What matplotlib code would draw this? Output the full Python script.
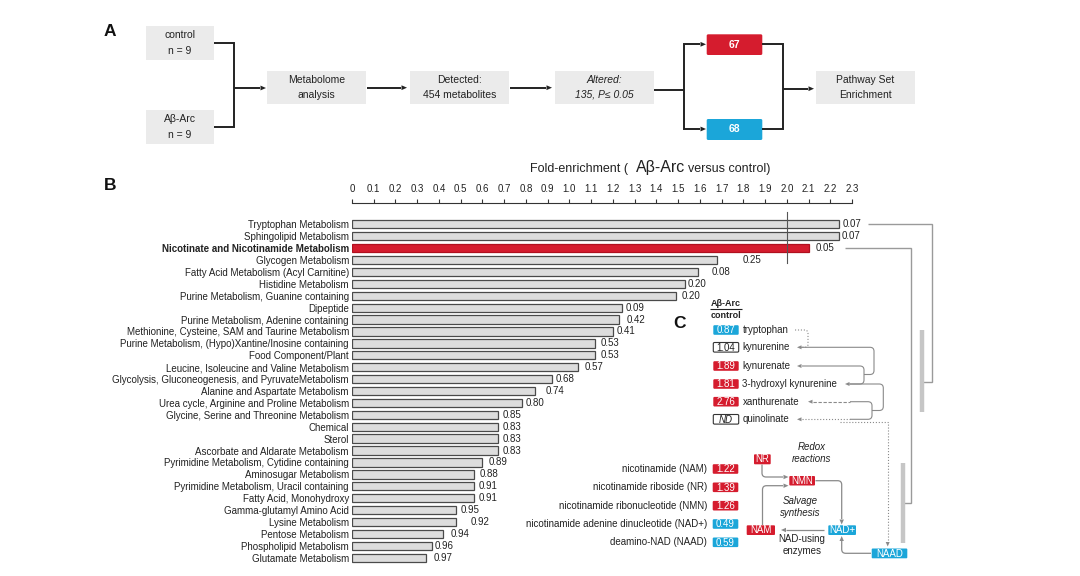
import numpy as np
import matplotlib
matplotlib.use("Agg")
import matplotlib.pyplot as plt
from matplotlib.patches import Rectangle, FancyBboxPatch, PathPatch, Polygon
from matplotlib.path import Path

plt.rcParams['font.family'] = ['Liberation Sans', 'DejaVu Sans']

# ---------------- data ----------------
categories = [
    "Tryptophan Metabolism", "Sphingolipid Metabolism",
    "Nicotinate and Nicotinamide Metabolism", "Glycogen Metabolism",
    "Fatty Acid Metabolism (Acyl Carnitine)", "Histidine Metabolism",
    "Purine Metabolism, Guanine containing", "Dipeptide",
    "Purine Metabolism, Adenine containing",
    "Methionine, Cysteine, SAM and Taurine Metabolism",
    "Purine Metabolism, (Hypo)Xantine/Inosine containing",
    "Food Component/Plant", "Leucine, Isoleucine and Valine Metabolism",
    "Glycolysis, Gluconeogenesis, and PyruvateMetabolism",
    "Alanine and Aspartate Metabolism",
    "Urea cycle, Arginine and Proline Metabolism",
    "Glycine, Serine and Threonine Metabolism", "Chemical", "Sterol",
    "Ascorbate and Aldarate Metabolism",
    "Pyrimidine Metabolism, Cytidine containing", "Aminosugar Metabolism",
    "Pyrimidine Metabolism, Uracil containing", "Fatty Acid, Monohydroxy",
    "Gamma-glutamyl Amino Acid", "Lysine Metabolism", "Pentose Metabolism",
    "Phospholipid Metabolism", "Glutamate Metabolism",
]
fold_enrichment = [2.24, 2.24, 2.10, 1.68, 1.59, 1.53, 1.49, 1.24, 1.23, 1.20,
                   1.12, 1.12, 1.04, 0.92, 0.84, 0.78, 0.67, 0.67, 0.67, 0.67,
                   0.60, 0.56, 0.56, 0.56, 0.48, 0.48, 0.42, 0.37, 0.34]
p_values = ["0.07", "0.07", "0.05", "0.25", "0.08", "0.20", "0.20", "0.09",
            "0.42", "0.41", "0.53", "0.53", "0.57", "0.68", "0.74", "0.80",
            "0.85", "0.83", "0.83", "0.83", "0.89", "0.88", "0.91", "0.91",
            "0.95", "0.92", "0.94", "0.96", "0.97"]
highlight = "Nicotinate and Nicotinamide Metabolism"
x_ticks = [round(0.1 * i, 1) for i in range(24)]

kyn_names = ["tryptophan", "kynurenine", "kynurenate", "3-hydroxyl kynurenine",
             "xanthurenate", "quinolinate"]
kyn_ratio = ["0.87", "1.04", "1.89", "1.81", "2.76", "ND"]
kyn_change = ["down", "ns", "up", "up", "up", "nd"]

nad_names = ["nicotinamide (NAM)", "nicotinamide riboside (NR)",
             "nicotinamide ribonucleotide (NMN)",
             "nicotinamide adenine dinucleotide (NAD+)", "deamino-NAD (NAAD)"]
nad_ratio = ["1.22", "1.39", "1.26", "0.49", "0.59"]
nad_change = ["up", "up", "up", "down", "down"]

n_control, n_abarc = 9, 9
n_detected, n_altered, n_up, n_down = 454, 135, 67, 68

# ---------------- style / layout ----------------
RED = '#d51c2e'
BLUE = '#1ba6d9'
BOXG = '#ebebeb'
DARK = '#222222'
GREY = '#9a9a9a'
TXT = '#222222'
pval_gap_px = [4, 3, 7, 25, 14, 3, 6, 4, 7, 4, 5, 5, 7, 4, 11, 4, 5, 5, 5, 5,
               6, 6, 5, 5, 4, 14, 7, 2, 8]

fig = plt.figure(figsize=(10.8, 5.76), dpi=100)
ov = fig.add_axes([0, 0, 1, 1])
ov.set_xlim(0, 1080)
ov.set_ylim(576, 0)
ov.set_axis_off()


def t(x, y, s, size=7, ha='center', va='center', color=TXT, **kw):
    ov.text(x, y, s, fontsize=size, ha=ha, va=va, color=color, **kw)


def rect(x0, x1, y0, y1, fc, ec='none', lw=0, r=0):
    if r > 0:
        p = FancyBboxPatch((x0, y0), x1 - x0, y1 - y0,
                           boxstyle=f"round,pad=0,rounding_size={r}",
                           facecolor=fc, edgecolor=ec, linewidth=lw)
    else:
        p = Rectangle((x0, y0), x1 - x0, y1 - y0, facecolor=fc,
                      edgecolor=ec, linewidth=lw)
    ov.add_patch(p)


def poly(pts, color, lw, ls='-', r=0, z=2):
    pts = [np.array(p, float) for p in pts]
    verts = [pts[0]]
    codes = [Path.MOVETO]
    for i in range(1, len(pts) - 1):
        p0, p1, p2 = pts[i - 1], pts[i], pts[i + 1]
        d1 = p0 - p1
        d2 = p2 - p1
        l1, l2 = np.linalg.norm(d1), np.linalg.norm(d2)
        rr = min(r, l1 / 2, l2 / 2)
        if rr > 0:
            a = p1 + d1 / l1 * rr
            b = p1 + d2 / l2 * rr
            verts += [a, p1, b]
            codes += [Path.LINETO, Path.CURVE3, Path.CURVE3]
        else:
            verts.append(p1)
            codes.append(Path.LINETO)
    verts.append(pts[-1])
    codes.append(Path.LINETO)
    ov.add_patch(PathPatch(Path(verts, codes), fill=False, edgecolor=color,
                           linewidth=lw, linestyle=ls, capstyle='butt',
                           joinstyle='miter', zorder=z))


def head(x, y, dx, dy, color, L=5.5, W=2.4):
    d = np.array([dx, dy], float)
    d /= np.linalg.norm(d)
    n = np.array([-d[1], d[0]])
    tip = np.array([x, y])
    base = tip - L * d
    ov.add_patch(Polygon([tip, base + W * n, base - W * n], closed=True,
                         facecolor=color, edgecolor='none', zorder=3))


# ---------------- panel letters ----------------
t(110, 31, "A", size=12.5, weight='bold', color='#111')
t(110, 185, "B", size=12.5, weight='bold', color='#111')
t(679, 324, "C", size=12.5, weight='bold', color='#111')

# ---------------- panel A: flowchart ----------------
FS = 7.5
rect(146, 214, 26, 59.5, BOXG)
t(180, 35, "control", FS)
t(180, 50.5, f"n = {n_control}", FS)
rect(146, 214, 110, 144, BOXG)
t(180, 119, "A\u03b2-Arc", FS)
t(180, 134.5, f"n = {n_abarc}", FS)
poly([(214, 43.3), (234.3, 43.3), (234.3, 126.7), (214, 126.7)], DARK, 1.4)
poly([(234.3, 88), (260, 88)], DARK, 1.4)
head(266, 88, 1, 0, DARK)

rect(266.7, 366, 70.7, 104, BOXG)
t(316.3, 80, "Metabolome", FS)
t(316.3, 94.5, "analysis", FS)
poly([(367, 87.7), (401, 87.7)], DARK, 1.4)
head(407, 87.7, 1, 0, DARK)

rect(410, 509, 70.7, 104, BOXG)
t(459.5, 80, "Detected:", FS)
t(459.5, 94.5, f"{n_detected} metabolites", FS)
poly([(510, 87.7), (546, 87.7)], DARK, 1.4)
head(552, 87.7, 1, 0, DARK)

rect(555, 654, 70.7, 104, BOXG)
t(604.5, 80, "Altered:", FS, style='italic')
t(604.5, 94.5, f"{n_altered}, P\u2264 0.05", FS, style='italic')
poly([(654, 90), (684.3, 90)], DARK, 1.4)
poly([(700, 44.3), (684.3, 44.3), (684.3, 129), (700, 129)], DARK, 1.4)
head(706, 44.3, 1, 0, DARK)
head(706, 129, 1, 0, DARK)

rect(706.7, 762.3, 34.3, 55, RED, r=1.5)
t(734.5, 44.8, str(n_up), FS, color='white', weight='bold')
rect(706.7, 762.3, 119, 140, BLUE, r=1.5)
t(734.5, 129.5, str(n_down), FS, color='white', weight='bold')
poly([(762.3, 44.3), (782.7, 44.3), (782.7, 129), (762.3, 129)], DARK, 1.4)
poly([(782.7, 88.7), (808, 88.7)], DARK, 1.4)
head(814, 88.7, 1, 0, DARK)

rect(816, 915, 70.7, 104, BOXG)
t(865.5, 80, "Pathway Set", FS)
t(865.5, 94.5, "Enrichment", FS)

# ---------------- panel B: bar chart ----------------
px_top, px_bottom = 203.0, 563.7
y_top, y_bot = -1.79, 28.5
ax = fig.add_axes([352 / 1080, 1 - px_bottom / 576, 500 / 1080,
                   (px_bottom - px_top) / 576])
ax.set_facecolor('none')
yy = np.arange(len(categories))
fills = [RED if c == highlight else '#dddddd' for c in categories]
edges = ['#b0101f' if c == highlight else '#4a4a4a' for c in categories]
ax.barh(yy, fold_enrichment, height=0.7, color=fills, edgecolor=edges,
        linewidth=0.9, zorder=2)
ax.set_xlim(0, 2.3)
ax.set_ylim(y_bot, y_top)
ax.xaxis.tick_top()
ax.set_xticks(x_ticks)
ax.set_xticklabels(["0" if v == 0 else f"{v:.1f}" for v in x_ticks])
ax.tick_params(axis='x', direction='out', length=3, width=0.8, pad=3.5,
               labelsize=7, colors='#222', color='#333')
for s in ['left', 'right', 'bottom']:
    ax.spines[s].set_visible(False)
ax.spines['top'].set_color('#333')
ax.spines['top'].set_linewidth(0.8)
ax.set_yticks(yy)
ax.set_yticklabels(categories, fontsize=7, color=TXT)
ax.tick_params(axis='y', length=0, pad=2.2)
for lbl in ax.get_yticklabels():
    if lbl.get_text() == highlight:
        lbl.set_fontweight('bold')
for i, (v, p) in enumerate(zip(fold_enrichment, p_values)):
    ax.annotate(p, xy=(v, i), xytext=(pval_gap_px[i] * 0.72, 0),
                textcoords='offset points', va='center', ha='left',
                fontsize=7, color=TXT, annotation_clip=False)
ax.plot([2.0, 2.0], [-1.06, 3.28], color='#555', lw=0.8, zorder=3,
        clip_on=False)

# axis title (mixed sizes)
t(530, 172, "Fold-enrichment (", 9, ha='left', va='baseline')
t(636, 172, "A\u03b2-Arc", 11.5, ha='left', va='baseline')
t(688, 172, "versus control)", 9, ha='left', va='baseline')

# connectors from bars to panel C
poly([(868, 224.3), (931.7, 224.3), (931.7, 381.7), (921.5, 381.7)], GREY, 1.0)
poly([(921.5, 330), (921.5, 411.7)], '#c6c6c6', 3.2)
poly([(845, 248.3), (910.7, 248.3), (910.7, 503.3), (903.3, 503.3)], GREY, 1.0)
poly([(903.3, 463.3), (903.3, 543.3)], '#c6c6c6', 3.2)

# ---------------- panel C ----------------
t(726, 303.3, "A\u03b2-Arc", 6.5, weight='bold')
poly([(710, 309.3), (742, 309.3)], DARK, 0.8)
t(726, 316, "control", 6.5, weight='bold')

kyn_y = [330, 347.3, 366, 384, 401.7, 419.3]
for name, val, ch, yv in zip(kyn_names, kyn_ratio, kyn_change, kyn_y):
    if ch == 'up':
        rect(713.3, 738.7, yv - 4.8, yv + 4.8, RED, r=1.2)
        t(726, yv + 0.3, val, 7, color='white')
    elif ch == 'down':
        rect(713.3, 738.7, yv - 4.8, yv + 4.8, BLUE, r=1.2)
        t(726, yv + 0.3, val, 7, color='white')
    else:
        rect(713.3, 738.7, yv - 4.8, yv + 4.8, 'white', ec='#333', lw=0.8,
             r=1.2)
        t(726, yv + 0.3, val, 7, color=TXT,
          style='italic' if ch == 'nd' else 'normal')
    t(742.5, yv, name, 7, ha='left')

CG = '#8a8a8a'
# tryptophan -> kynurenine
poly([(795, 330), (808, 330), (808, 347.3), (802, 347.3)], CG, 0.8, ls=':', r=3)
head(797, 347.3, -1, 0, CG, L=4.5, W=2)
# kynurenine -> kynurenate / 3-HK
poly([(800, 347.3), (874, 347.3), (874, 374.5), (864, 374.5)], CG, 0.8, r=4)
poly([(802, 366), (864, 366), (864, 384), (850, 384)], CG, 0.8, r=4)
head(797, 366, -1, 0, CG, L=4.5, W=2)
head(845, 384, -1, 0, CG, L=4.5, W=2)
# 3-HK -> xanthurenate / quinolinate
poly([(849, 384), (883.3, 384), (883.3, 410.5), (872, 410.5)], CG, 0.8, r=4)
poly([(850, 401.7), (872, 401.7), (872, 419.3), (850, 419.3)], CG, 0.8, r=4)
poly([(813, 401.7), (850, 401.7)], CG, 0.8, ls=(0, (3, 1.5)))
head(808, 401.7, -1, 0, CG, L=4.5, W=2)
poly([(802, 419.3), (850, 419.3)], CG, 0.8, ls=':')
head(797, 419.3, -1, 0, CG, L=4.5, W=2)
# quinolinate -> NAAD
poly([(840, 421.5), (887.7, 421.5), (887.7, 541)], CG, 0.8, ls=':')
head(887.7, 546.5, 0, 1, CG, L=4.5, W=2)

# NAD metabolites
nad_y = [469, 487.3, 505.7, 524, 542.3]
for name, val, ch, yv in zip(nad_names, nad_ratio, nad_change, nad_y):
    rect(712.7, 738.3, yv - 4.8, yv + 4.8, RED if ch == 'up' else BLUE, r=1.2)
    t(725.5, yv + 0.3, val, 7, color='white')
    t(707.3, yv, name, 7, ha='right')

# cycle diagram
rect(754, 770.7, 454.3, 464.3, RED, r=1)
t(762.3, 459.5, "NR", 7, color='white')
rect(789.3, 815, 476, 485.5, RED, r=1)
t(802.2, 481, "NMN", 7, color='white')
rect(746.7, 775, 525.3, 535, RED, r=1)
t(760.8, 530.3, "NAM", 7, color='white')
rect(828.3, 856, 525.3, 535, BLUE, r=1)
t(842.2, 530.3, "NAD+", 7, color='white')
rect(871.7, 907.3, 548.5, 558.3, BLUE, r=1)
t(889.5, 553.6, "NAAD", 7, color='white')

t(811.7, 446.7, "Redox", 7, style='italic')
t(811.7, 459, "reactions", 7, style='italic')
t(800, 501, "Salvage", 7, style='italic')
t(800, 513.3, "synthesis", 7, style='italic')
t(801.7, 539, "NAD-using", 7)
t(801.7, 551, "enzymes", 7)

poly([(762, 464.5), (762, 477), (783, 477)], CG, 0.9, r=4)
head(788.5, 477, 1, 0, CG, L=5, W=2.2)
poly([(762.5, 525), (762.5, 485.7), (783, 485.7)], CG, 0.9, r=4)
head(788.5, 485.7, 1, 0, CG, L=5, W=2.2)
poly([(815.5, 480.7), (841.7, 480.7), (841.7, 519)], CG, 0.9, r=4)
head(841.7, 524.5, 0, 1, CG, L=5, W=2.2)
poly([(824, 530), (786, 530)], CG, 0.9)
head(781, 530, -1, 0, CG, L=5, W=2.2)
poly([(871, 553.3), (841.7, 553.3), (841.7, 541)], CG, 0.9, r=4)
head(841.7, 536, 0, -1, CG, L=5, W=2.2)

fig.savefig("out.png", dpi=100)
